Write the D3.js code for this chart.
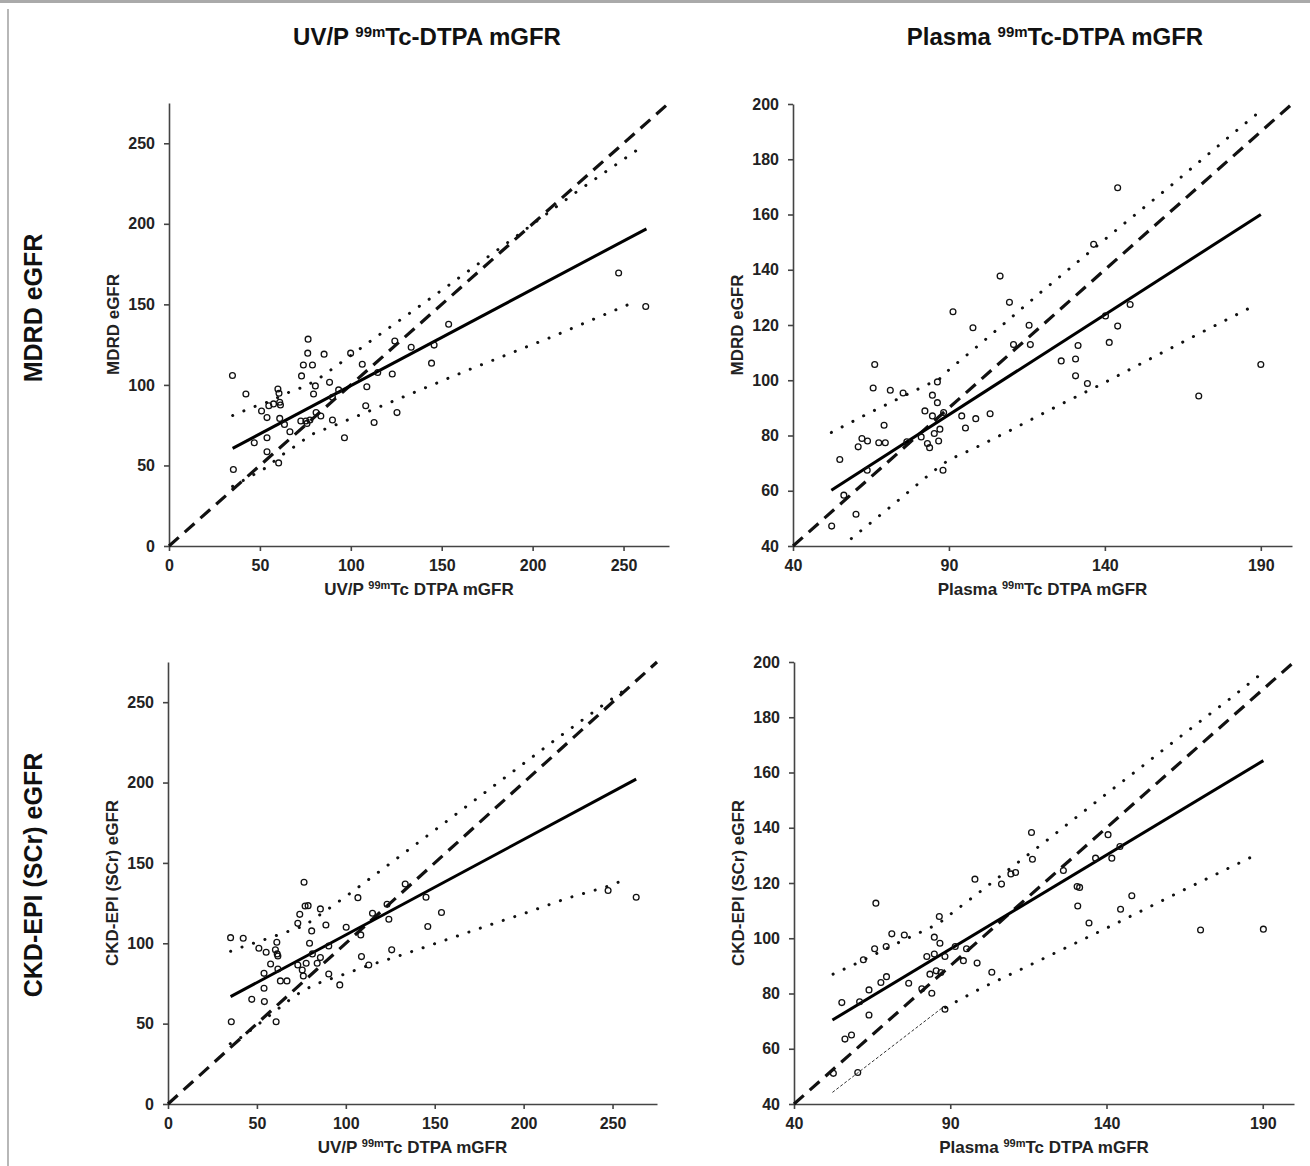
<!DOCTYPE html>
<html><head><meta charset="utf-8">
<script src="https://cdn.jsdelivr.net/npm/d3@7"></script>
<style>
body{margin:0;background:#fff;}
svg{display:block;font-family:Arial,"Liberation Sans",sans-serif;}
</style></head>
<body><svg id="c" width="1310" height="1166"></svg>
<script>
// ---------- DATA ----------
const colTitles = [["UV/P ", "99m", "Tc-DTPA mGFR"], ["Plasma ", "99m", "Tc-DTPA mGFR"]];
const rowTitles = ["MDRD eGFR", "CKD-EPI (SCr) eGFR"];
const xTitles = [["UV/P ", "99m", "Tc DTPA mGFR"], ["Plasma ", "99m", "Tc DTPA mGFR"]];
const yTitles = ["MDRD eGFR", "CKD-EPI (SCr) eGFR"];
const ticksUV = [0, 50, 100, 150, 200, 250];
const ticksPlasmaX = [40, 90, 140, 190];
const ticksPlasmaY = [40, 60, 80, 100, 120, 140, 160, 180, 200];
const domainUV = [0, 275];
const domainPlasma = [40, 200];

// Panel 1: UV/P mGFR vs MDRD eGFR
const pts1 = [[34.9,105.8],[35.4,47.5],[42.3,94.4],[46.9,64.1],[50.9,83.8],[53.9,79.7],[53.9,67.2],[53.9,58.5],[54.9,87.1],[57.5,88.2],[59.9,97.5],[60.5,94.8],[60.9,89.2],[61.3,87.5],[60.9,79.2],[60.3,51.6],[63.5,75.5],[66.5,70.9],[72.9,105.6],[73.9,112.4],[72.5,77.6],[75.3,77.6],[76.5,128.4],[76.3,119.7],[75.9,76.1],[77.5,78.2],[78.9,112.4],[79.5,94.4],[80.5,99.4],[80.9,82.8],[83.5,80.7],[85.3,119.1],[88.3,101.6],[89.9,92.3],[89.9,78.2],[93.3,96.9],[96.5,67.2],[99.9,119.7],[106.3,112.8],[108.2,87.1],[108.8,98.9],[112.8,76.7],[114.8,107.7],[122.8,106.8],[124.2,127.2],[125.4,82.8],[133.2,123.4],[144.4,113.5],[145.8,124.7],[153.8,137.7],[247.3,169.5],[262.2,148.7]];
const reg1 = [[35,60.6],[262.6,196.9]];
const upper1 = [[35,81],[48,87],[55,89.6],[68,96.5],[75,99],[84,105.2],[96,115],[113,129],[130.5,143],[154,162],[189,190.6],[224,219.7],[259,247]];
const lower1 = [[35,37],[52.7,48.2],[63.7,57.7],[69.7,62.2],[78.1,69.1],[91.5,75.1],[111.5,84.4],[164,109],[211,130],[257,152]];

// Panel 2: Plasma mGFR vs MDRD eGFR
const pts2 = [[52.4,47.2],[55.0,71.3],[56.3,58.4],[60.2,51.5],[60.9,75.9],[62.1,78.9],[63.9,78.0],[63.8,67.4],[65.7,97.2],[66.2,105.7],[67.5,77.4],[69.2,83.7],[69.6,77.4],[71.2,96.4],[75.3,95.4],[76.5,77.7],[81.1,79.5],[82.3,88.9],[83.1,77.1],[83.8,75.6],[84.7,94.6],[84.7,87.1],[85.3,80.7],[86.3,99.4],[86.3,91.9],[86.7,78.0],[87.1,82.3],[88.1,67.4],[88.3,88.3],[91.3,124.8],[94.1,87.1],[95.3,82.7],[97.7,119.0],[98.6,86.1],[103.2,87.9],[106.4,137.7],[109.4,128.2],[110.7,112.9],[115.7,119.9],[116.1,112.9],[126.0,107.0],[130.6,107.7],[130.6,101.6],[131.4,112.6],[134.4,98.8],[136.4,149.2],[140.2,123.3],[141.4,113.7],[144.1,169.7],[144.1,119.6],[148.1,127.4],[170.1,94.3],[190.0,105.7]];
const reg2 = [[52.3,60.2],[190,160]];
const upper2 = [[52.3,81.1],[63.6,87.7],[71.2,91.9],[82.3,98],[86.9,100.4],[90.1,103.9],[99.8,112.9],[119,131.4],[141.4,152.3],[160.8,170.1],[180.1,188.4],[190,197.6]];
const lower2 = [[58.7,42.7],[71.8,54.7],[84.7,66.8],[90.1,71.3],[98,75.3],[109.4,81.7],[124.3,90.4],[139.3,98.8],[154.1,107.5],[169.2,116.3],[187.7,126.9]];

// Panel 3: UV/P mGFR vs CKD-EPI eGFR
const pts3 = [[35.2,103.5],[35.6,51.2],[42.3,103.1],[47.1,65.1],[51.1,96.9],[54.0,81.3],[54.0,72.0],[54.2,63.7],[55.2,94.4],[57.7,87.1],[60.4,95.9],[61.2,100.6],[61.4,93.4],[61.8,92.1],[61.8,84.0],[60.8,51.2],[63.2,76.6],[66.9,76.6],[73.0,112.4],[74.1,118.0],[73.0,86.5],[75.5,83.4],[76.1,79.7],[76.5,138.0],[77.1,123.2],[78.8,123.4],[77.7,87.6],[79.6,100.0],[80.8,107.7],[81.2,93.4],[83.9,87.6],[85.7,91.1],[85.7,121.4],[88.8,111.4],[90.4,98.3],[90.4,80.9],[96.6,74.1],[100.2,110.0],[106.8,128.4],[108.4,105.2],[108.8,91.7],[112.9,86.5],[115,118.7],[123.2,124.3],[124.2,114.9],[125.8,95.9],[133.4,136.9],[145.1,128.6],[146.1,110.4],[153.8,119.1],[247.5,132.8],[263.3,128.6]];
const reg3 = [[35.2,66.8],[263.3,202.1]];
const upper3 = [[35.2,95],[42.2,97.9],[49.2,100.4],[55.9,102.9],[62.9,105.6],[70,108.3],[76.9,111],[84,116.6],[90,121.2],[102,130.7],[125.6,150.2],[149,169.5],[172.7,189.2],[196,208.5],[219,227.6],[243.5,247.3],[255.5,256.6]];
const lower3 = [[35,37.5],[42,42],[64.7,61.6],[70.3,66.4],[76.4,70.9],[85.4,75.5],[99,80.7],[112.5,86.1],[127,91.1],[141,96.3],[161.6,104.1],[182.5,112],[203.4,119.7],[224.4,128],[245.9,134.9],[259.2,140.5]];

// Panel 4: Plasma mGFR vs CKD-EPI eGFR
const pts4 = [[52.6,51.1],[55.3,76.7],[56.3,63.5],[58.4,65.0],[60.4,51.4],[61.0,77.0],[62.2,92.2],[64.0,81.3],[64.0,72.2],[65.8,96.2],[66.2,112.7],[67.8,84.0],[69.5,97.0],[69.6,86.1],[71.3,101.6],[75.3,101.2],[76.7,83.7],[80.9,81.7],[82.5,93.4],[83.5,87.0],[84.1,80.1],[84.9,100.4],[84.9,94.3],[85.5,88.2],[86.5,107.9],[86.7,98.2],[87.0,87.6],[88.3,93.4],[88.3,74.3],[91.6,97.0],[94.2,91.9],[95.2,96.2],[97.9,121.4],[98.6,91.0],[103.3,87.7],[106.4,119.6],[109.4,123.3],[110.9,123.8],[116.0,138.3],[116.3,128.6],[126.2,124.5],[130.6,118.7],[131.4,118.4],[130.8,111.7],[134.4,105.5],[136.5,129.0],[140.5,137.5],[141.7,129.0],[144.3,133.2],[144.5,110.5],[148.1,115.4],[170.1,103.0],[190.2,103.3]];
const reg4 = [[52.3,70.4],[190.2,164.3]];
const upper4 = [[52.5,87],[60.2,91],[67.7,95.2],[75.2,99.4],[82.8,103.4],[86.5,105.5],[90.2,108.8],[100.3,117.5],[110,126],[120.2,134.8],[130,143.5],[139.9,152.2],[149.8,160.8],[159.6,169.5],[169.5,178.1],[179.4,186.6],[189.6,195.8]];
const lower4 = [[88.5,75],[100,82],[113.3,89.1],[139.9,103.6],[165.8,118.1],[188.6,130.6]];
const lower4thin = [[52.3,44.2],[87.3,74.7]];

// ---------- LAYOUT ----------
const svg = d3.select("#c");
svg.append("rect").attr("width",1310).attr("height",1166).attr("fill","#fff");
svg.append("rect").attr("x",0).attr("y",0).attr("width",1310).attr("height",3).attr("fill","#aaa");
svg.append("line").attr("x1",8).attr("x2",8).attr("y1",9).attr("y2",1166).attr("stroke","#888").attr("stroke-width",1.2);

const panels = [
  {box:[169,669,103,546], dom:domainUV, xt:ticksUV, yt:ticksUV, pts:pts1, reg:reg1, up:upper1, lo:lower1, xTitle:xTitles[0], yTitle:yTitles[0]},
  {box:[793,1292,104,546], dom:domainPlasma, xt:ticksPlasmaX, yt:ticksPlasmaY, pts:pts2, reg:reg2, up:upper2, lo:lower2, xTitle:xTitles[1], yTitle:yTitles[0]},
  {box:[168,657,662,1104], dom:domainUV, xt:ticksUV, yt:ticksUV, pts:pts3, reg:reg3, up:upper3, lo:lower3, xTitle:xTitles[0], yTitle:yTitles[1]},
  {box:[794,1294,662,1104], dom:domainPlasma, xt:ticksPlasmaX, yt:ticksPlasmaY, pts:pts4, reg:reg4, up:upper4, lo:lower4, thin:lower4thin, xTitle:xTitles[1], yTitle:yTitles[1]}
];

function supText(sel, parts, big, small, raise){
  sel.append("tspan").text(parts[0]);
  sel.append("tspan").attr("font-size",small).attr("dy",-raise).text(parts[1]);
  sel.append("tspan").attr("font-size",big).attr("dy",raise).text(parts[2]);
}

panels.forEach(p => {
  const [l,r,t,b] = p.box;
  const x = d3.scaleLinear().domain(p.dom).range([l,r]);
  const y = d3.scaleLinear().domain(p.dom).range([b,t]);
  const g = svg.append("g");

  const xa = g.append("g").attr("transform",`translate(0,${b})`)
    .call(d3.axisBottom(x).tickValues(p.xt).tickSize(5).tickSizeOuter(0).tickPadding(9));
  const ya = g.append("g").attr("transform",`translate(${l},0)`)
    .call(d3.axisLeft(y).tickValues(p.yt).tickSize(5).tickSizeOuter(0).tickPadding(9));
  [xa,ya].forEach(a=>{
    a.select(".domain").attr("stroke","#444").attr("stroke-width",1.6);
    a.selectAll(".tick line").attr("stroke","#444").attr("stroke-width",1.6);
    a.selectAll(".tick text").attr("font-size",16).attr("font-weight","bold").attr("fill","#222")
      .attr("font-family",'Arial,"Liberation Sans",sans-serif');
  });

  const line = d3.line().x(d=>x(d[0])).y(d=>y(d[1]));
  // identity line
  g.append("path").attr("d", line([[p.dom[0],p.dom[0]],[p.dom[1],p.dom[1]]]))
    .attr("fill","none").attr("stroke","#111").attr("stroke-width",3.2).attr("stroke-dasharray","13,8");
  // prediction bands (dotted)
  [p.up, p.lo].forEach(band=>{
    g.append("path").attr("d", line(band)).attr("fill","none").attr("stroke","#111")
      .attr("stroke-width",3).attr("stroke-linecap","round").attr("stroke-dasharray","0.1,12");
  });
  if (p.thin){
    g.append("path").attr("d", line(p.thin)).attr("fill","none").attr("stroke","#333")
      .attr("stroke-width",1).attr("stroke-dasharray","3,2");
  }
  // regression line
  g.append("path").attr("d", line(p.reg)).attr("fill","none").attr("stroke","#000").attr("stroke-width",3);
  // points
  g.selectAll("circle.pt").data(p.pts).join("circle").attr("class","pt")
    .attr("cx",d=>x(d[0])).attr("cy",d=>y(d[1])).attr("r",2.9)
    .attr("fill","none").attr("stroke","#111").attr("stroke-width",1.3);

  // axis titles
  const xt = g.append("text").attr("x",(l+r)/2).attr("y",b+49).attr("text-anchor","middle")
    .attr("font-size",17).attr("font-weight","bold").attr("fill","#222");
  supText(xt, p.xTitle, 17, 11, 6);
  g.append("text").attr("transform",`translate(${l-50},${(t+b)/2}) rotate(-90)`)
    .attr("text-anchor","middle").attr("font-size",17).attr("font-weight","bold").attr("fill","#222")
    .text(p.yTitle);
});

// column titles
[[427,45],[1055,45]].forEach((pos,i)=>{
  const t = svg.append("text").attr("x",pos[0]).attr("y",pos[1]).attr("text-anchor","middle")
    .attr("font-size",24).attr("font-weight","bold").attr("fill","#111");
  supText(t, colTitles[i], 24, 15, 8);
});
// row titles
[[42,308],[42,875]].forEach((pos,i)=>{
  svg.append("text").attr("transform",`translate(${pos[0]},${pos[1]}) rotate(-90)`)
    .attr("text-anchor","middle").attr("font-size",25).attr("font-weight","bold").attr("fill","#111")
    .text(rowTitles[i]);
});
</script></body></html>
